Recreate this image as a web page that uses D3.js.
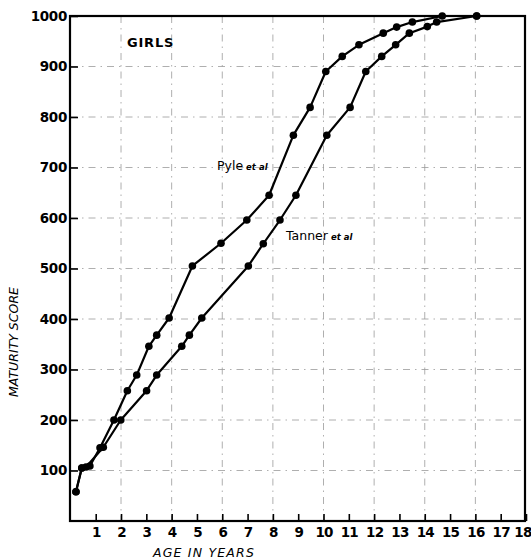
<!DOCTYPE html>
<html><head><meta charset="utf-8">
<script src="https://cdn.jsdelivr.net/npm/d3@7"></script>
<style>body{margin:0;background:#fff}svg{display:block}</style>
</head><body>
<svg id="c" width="531" height="560"></svg>
<script>
const pyleAge   = [0.22,0.45,0.77,1.17,1.72,2.25,2.62,3.10,3.41,3.90,4.82,5.95,6.97,7.85,8.81,9.47,10.09,10.74,11.40,12.36,12.89,13.51,14.69,16.05];
const pyleScore = [58,105,109,145,200,258,289,346,368,402,505,550,596,645,764,819,890,920,943,966,978,988,1000,1000];
const tannerAge   = [0.22,0.45,0.62,1.30,1.99,3.01,3.41,4.40,4.70,5.19,7.03,7.62,8.28,8.91,10.13,11.05,11.67,12.30,12.85,13.39,14.10,14.47,16.05];
const tannerScore = [58,105,107,146,200,258,289,346,368,402,505,549,596,645,764,819,890,920,943,966,979,988,1000];
const xTicks = [1,2,3,4,5,6,7,8,9,10,11,12,13,14,15,16,17,18];
const yTicks = [100,200,300,400,500,600,700,800,900,1000];
const xGrid = [2,4,6,8,10,12,14,16];
const yGrid = [100,200,300,400,500,600,700,800,900];

const svg = d3.select("#c");
const x = d3.scaleLinear().domain([0,18]).range([70.4,526]);
const y = d3.scaleLinear().domain([0,1000]).range([521,16]);
const L = 70, R = 525, T = 16, B = 521;
const font = "DejaVu Sans, sans-serif";

// grid
const g = svg.append("g").attr("stroke","#9a9a9a").attr("stroke-width",0.8).attr("stroke-dasharray","7,5,1.5,5");
g.selectAll("line.h").data(yGrid).join("line").attr("x1",L).attr("x2",R).attr("y1",d=>y(d)).attr("y2",d=>y(d));
g.selectAll("line.v").data(xGrid).join("line").attr("x1",d=>x(d)).attr("x2",d=>x(d)).attr("y1",T).attr("y2",B);

// frame
svg.append("rect").attr("x",L).attr("y",T).attr("width",R-L).attr("height",B-T)
  .attr("fill","none").attr("stroke","#000").attr("stroke-width",2.2);

// y axis ticks/labels
const ya = d3.axisLeft(y).tickValues(yTicks).tickSize(-8).tickPadding(3).tickFormat(d3.format("d"));
const yg = svg.append("g").attr("transform",`translate(${L},0)`).call(ya);
yg.select(".domain").remove();
yg.selectAll(".tick line").attr("stroke","#000").attr("stroke-width",1.6);
yg.selectAll(".tick text").attr("font-family",font).attr("font-weight","bold").attr("font-size",13.5)
  .attr("fill","#000").attr("letter-spacing",-0.3);

// x axis ticks/labels
const xa = d3.axisBottom(x).tickValues(xTicks).tickSize(-7).tickPadding(6).tickFormat(d3.format("d"));
const xg = svg.append("g").attr("transform",`translate(0,${B})`).call(xa);
xg.select(".domain").remove();
xg.selectAll(".tick line").attr("stroke","#000").attr("stroke-width",1.6);
xg.selectAll(".tick text").attr("font-family",font).attr("font-weight","bold").attr("font-size",13.5)
  .attr("fill","#000").attr("letter-spacing",-0.8);
xg.selectAll(".tick text").filter(d=>d===18).attr("text-anchor","end").attr("x",5);

// curves
const line = d3.line().x(d=>x(d[0])).y(d=>y(d[1]));
const series = [d3.zip(pyleAge,pyleScore), d3.zip(tannerAge,tannerScore)];
series.forEach(s=>{
  svg.append("path").datum(s).attr("d",line).attr("fill","none").attr("stroke","#000").attr("stroke-width",2.2).attr("stroke-linejoin","round");
  svg.append("g").selectAll("circle").data(s).join("circle")
    .attr("cx",d=>x(d[0])).attr("cy",d=>y(d[1])).attr("r",3.8).attr("fill","#000");
});

// labels
svg.append("text").attr("x",127).attr("y",47).attr("font-family",font).attr("font-weight","bold")
  .attr("font-size",13).attr("letter-spacing",0.8).text("GIRLS");

function lbl(tx,ty,name){
  const t = svg.append("text").attr("x",tx).attr("y",ty).attr("font-family",font).attr("font-size",12.5);
  t.append("tspan").text(name);
  t.append("tspan").attr("dx",3).attr("font-size",8.5).attr("font-weight","bold").attr("font-style","italic").text("et al");
}
lbl(217,170,"Pyle");
lbl(286,240,"Tanner");

svg.append("text").attr("x",204).attr("y",557).attr("text-anchor","middle").attr("font-family",font)
  .attr("font-style","italic").attr("font-size",12.5).attr("letter-spacing",1.2).text("AGE IN YEARS");
svg.append("text").attr("transform","translate(18,342) rotate(-90)").attr("text-anchor","middle").attr("font-family",font)
  .attr("font-style","italic").attr("font-size",12.5).attr("letter-spacing",0).text("MATURITY SCORE");
</script>
</body></html>
